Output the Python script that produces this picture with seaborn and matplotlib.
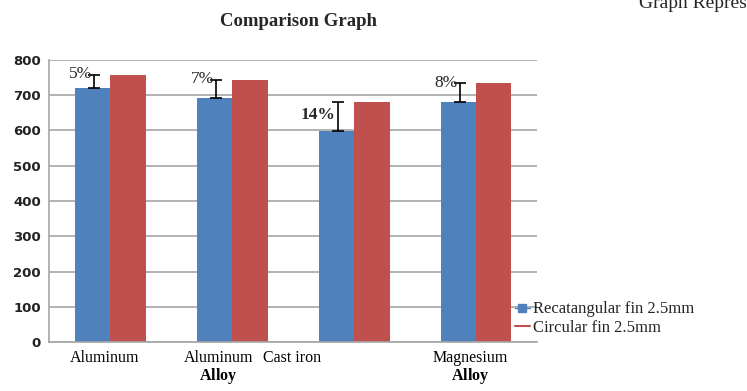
import matplotlib
matplotlib.use("Agg")
import matplotlib.pyplot as plt
import matplotlib.transforms as mtransforms
from matplotlib.lines import Line2D
import numpy as np
import pandas as pd
import seaborn as sns

# values
materials = ["Aluminum", "Aluminum Alloy", "Cast iron", "Magnesium Alloy"]
tick_text = ["Aluminum", "Aluminum\n$\\mathbf{Alloy}$", "Cast iron", "Magnesium\n$\\mathbf{Alloy}$"]
rect_fin = [721, 693, 598, 681]
circ_fin = [757, 743, 681, 733]
err_up = [36, 50, 83, 52]
pct_labels = ["5%", "7%", "14%", "8%"]
series = ["Recatangular fin 2.5mm", "Circular fin 2.5mm"]

df = pd.DataFrame({
    "material": materials * 2,
    "value": rect_fin + circ_fin,
    "fin": [series[0]] * 4 + [series[1]] * 4,
})

sns.set_style("white")
plt.rcParams["font.family"] = ["Liberation Serif", "DejaVu Serif"]
plt.rcParams["mathtext.fontset"] = "custom"
plt.rcParams["mathtext.bf"] = "Liberation Serif:bold"
plt.rcParams["mathtext.rm"] = "Liberation Serif"

blue = "#4F81BD"
red = "#C0504D"

fig = plt.figure(figsize=(7.47, 3.91), dpi=100)
ax = fig.add_axes([0.066, 0.125, 0.653, 0.722])

sns.barplot(data=df, x="material", y="value", hue="fin", palette=[blue, red],
            width=0.58, saturation=1, legend=False, linewidth=0, ax=ax)

ax.set_ylim(0, 800)
ax.set_yticks(np.arange(0, 801, 100))
ax.set_xlim(-0.5, 3.5)
ax.yaxis.grid(True, color="#a6a6a6", linewidth=1.2)
ax.set_axisbelow(True)
for s in ["top", "right"]:
    ax.spines[s].set_visible(False)
ax.spines["left"].set_color("#a6a6a6")
ax.spines["bottom"].set_color("#a6a6a6")
ax.spines["left"].set_linewidth(1.2)
ax.spines["bottom"].set_linewidth(1.2)
ax.set_xlabel("")
ax.set_ylabel("")

# ticks on category boundaries, labels in the middle
ax.set_xticks([0.5, 1.5, 2.5], minor=False)
ax.set_xticklabels([])
ax.set_xticks([0, 1, 2, 3], minor=True)
ax.set_xticklabels(tick_text, minor=True, fontsize=11.5, color="black", linespacing=1.0)
ax.tick_params(axis="x", which="major", direction="out", length=4, color="#a6a6a6", width=1.2)
ax.tick_params(axis="x", which="minor", length=0, pad=6)
ax.tick_params(axis="y", direction="out", length=4, color="#a6a6a6", width=1.2, pad=2)
for lab in ax.get_yticklabels():
    lab.set_fontfamily("DejaVu Sans")
    lab.set_fontweight("bold")
    lab.set_fontsize(9.5)
    lab.set_color("#222222")

# shift the odd label placements like the original
shifts = [-6, -14, -62, -6]
for lab, dx in zip(ax.get_xticklabels(minor=True), shifts):
    lab.set_transform(lab.get_transform() + mtransforms.ScaledTranslation(dx / 100, 0, fig.dpi_scale_trans))

# error bars (plus only) on the rectangular fin bars
blue_bars = ax.patches[:4]
xs = [p.get_x() + p.get_width() * 0.55 for p in blue_bars]
ax.errorbar(xs, rect_fin, yerr=[np.zeros(4), err_up], fmt="none",
            ecolor="black", elinewidth=1.2, capsize=4, capthick=1.2)

for x, v, e, t in zip(xs, rect_fin, err_up, pct_labels):
    if t == "14%":
        ax.text(x - 0.02, v + e * 0.55, t, ha="right", va="center", fontsize=12.5,
                fontweight="bold")
    else:
        ax.text(x - 0.02, v + e + 2, t, ha="right", va="center", fontsize=12.5)

fig.text(0.40, 0.945, "Comparison Graph", ha="center", va="center",
         fontsize=13.5, fontweight="bold")
fig.text(0.855, 0.99, "Graph Repres", ha="left", va="center", fontsize=14)

handles = [
    Line2D([0], [0], color=blue, marker="s", markersize=6, linewidth=1, linestyle="-"),
    Line2D([0], [0], color=red, linewidth=1.5),
]
fig.legend(handles, series, loc="center left", bbox_to_anchor=(0.68, 0.185),
           frameon=False, fontsize=12, handlelength=0.9, handletextpad=0.2,
           labelspacing=0.15, borderaxespad=0)

fig.savefig("out.png", dpi=100)
